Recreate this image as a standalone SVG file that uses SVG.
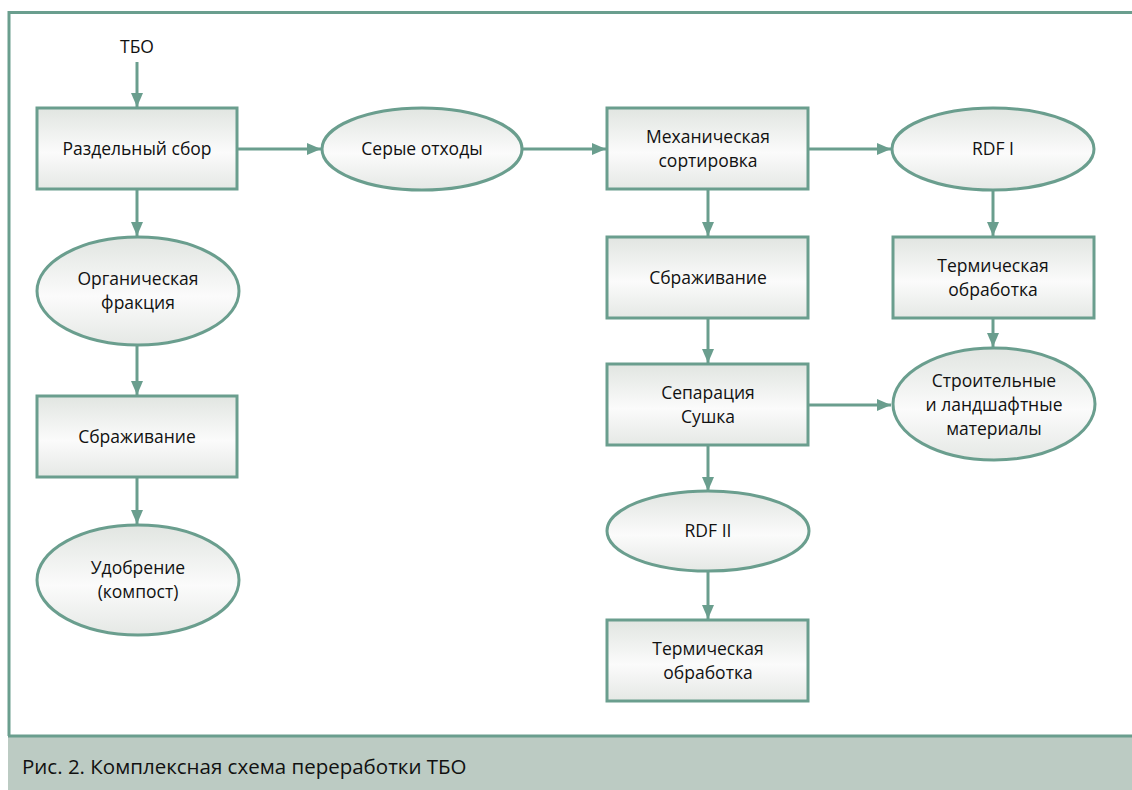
<svg xmlns="http://www.w3.org/2000/svg" width="1132" height="790" viewBox="0 0 1132 790">
<defs>
<linearGradient id="g" x1="0" y1="0" x2="0" y2="1">
<stop offset="0" stop-color="#e1e5e1"/>
<stop offset="0.55" stop-color="#fbfbfb"/>
<stop offset="1" stop-color="#e5e8e5"/>
</linearGradient>
<marker id="ah" markerWidth="14" markerHeight="12" refX="14" refY="6" orient="auto" markerUnits="userSpaceOnUse">
<path d="M0,0 L14,6 L0,12 Z" fill="#6a9e8e"/>
</marker>
<style>
.n{fill:url(#g);stroke:#6a9e8e;stroke-width:3}
.t{font-family:"Open Sans","Liberation Sans",sans-serif;font-size:17.5px;fill:#111;text-anchor:middle}
.c{stroke:#6a9e8e;stroke-width:3;fill:none;marker-end:url(#ah)}
</style>
</defs>
<rect x="0" y="0" width="1132" height="790" fill="#fff"/>
<g id="frame">
<path d="M9,736 V12.5 H1132" fill="none" stroke="#6a9e8e" stroke-width="3"/>
<rect x="8" y="736" width="1124" height="54" fill="#bccbc3"/>
<line x1="8" y1="736" x2="1132" y2="736" stroke="#6a9e8e" stroke-width="3"/>
<text x="22" y="774" font-family="'Open Sans','Liberation Sans',sans-serif" font-size="20.5" fill="#111">Рис. 2. Комплексная схема переработки ТБО</text>
</g>
<g id="connectors">
<line class="c" x1="137" y1="62" x2="137" y2="107"/>
<line class="c" x1="238" y1="149" x2="321" y2="149"/>
<line class="c" x1="523" y1="149" x2="606" y2="149"/>
<line class="c" x1="809" y1="149" x2="891" y2="149"/>
<line class="c" x1="137" y1="190" x2="137" y2="236"/>
<line class="c" x1="137" y1="345" x2="137" y2="395"/>
<line class="c" x1="137" y1="478" x2="137" y2="524"/>
<line class="c" x1="708" y1="190" x2="708" y2="236"/>
<line class="c" x1="708" y1="319" x2="708" y2="363"/>
<line class="c" x1="708" y1="446" x2="708" y2="491"/>
<line class="c" x1="708" y1="571" x2="708" y2="619"/>
<line class="c" x1="993" y1="190" x2="993" y2="236"/>
<line class="c" x1="993" y1="319" x2="993" y2="347"/>
<line class="c" x1="809" y1="405" x2="891" y2="405"/>
</g>
<g id="tbo"><text class="t" x="137" y="53">ТБО</text></g>
<g id="razd"><rect class="n" x="37" y="108" width="200" height="81"/><text class="t" x="137" y="155">Раздельный сбор</text></g>
<g id="serye"><ellipse class="n" cx="422" cy="149" rx="100" ry="41"/><text class="t" x="422" y="155">Серые отходы</text></g>
<g id="mech"><rect class="n" x="607" y="108" width="201" height="81"/><text class="t" x="708" y="143">Механическая</text><text class="t" x="708" y="167">сортировка</text></g>
<g id="rdf1"><ellipse class="n" cx="993" cy="149" rx="101" ry="41"/><text class="t" x="993" y="155">RDF I</text></g>
<g id="org"><ellipse class="n" cx="138" cy="291" rx="101" ry="54"/><text class="t" x="138" y="285">Органическая</text><text class="t" x="138" y="309">фракция</text></g>
<g id="sbr1"><rect class="n" x="37" y="396" width="200" height="81"/><text class="t" x="137" y="443">Сбраживание</text></g>
<g id="udob"><ellipse class="n" cx="138" cy="580" rx="101" ry="55"/><text class="t" x="138" y="574">Удобрение</text><text class="t" x="138" y="598">(компост)</text></g>
<g id="sbr2"><rect class="n" x="607" y="237" width="201" height="81"/><text class="t" x="708" y="284">Сбраживание</text></g>
<g id="sep"><rect class="n" x="607" y="364" width="201" height="81"/><text class="t" x="708" y="399">Сепарация</text><text class="t" x="708" y="423">Сушка</text></g>
<g id="rdf2"><ellipse class="n" cx="708" cy="531" rx="101" ry="40"/><text class="t" x="708" y="537">RDF II</text></g>
<g id="term2"><rect class="n" x="607" y="620" width="201" height="81"/><text class="t" x="708" y="655">Термическая</text><text class="t" x="708" y="679">обработка</text></g>
<g id="term1"><rect class="n" x="893" y="237" width="201" height="81"/><text class="t" x="993" y="272">Термическая</text><text class="t" x="993" y="296">обработка</text></g>
<g id="stroy"><ellipse class="n" cx="994" cy="404" rx="101" ry="56"/><text class="t" x="994" y="387">Строительные</text><text class="t" x="994" y="411">и ландшафтные</text><text class="t" x="994" y="435">материалы</text></g>
</svg>
